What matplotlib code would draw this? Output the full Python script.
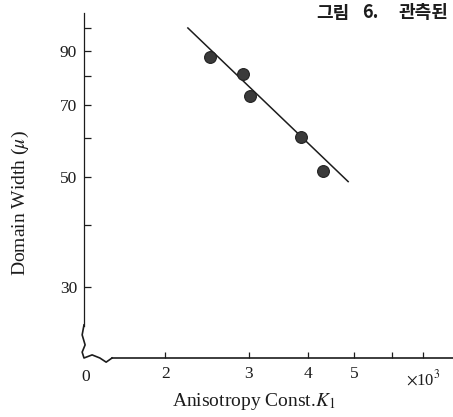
import numpy as np
import matplotlib
matplotlib.use("Agg")
import matplotlib.pyplot as plt
from matplotlib.ticker import FixedLocator, NullFormatter, FixedFormatter

# measured points (anisotropy const K1 in 10^3, domain width in micron)
k1 = [2.48, 2.92, 3.01, 3.87, 4.30]
width = [87.3, 80.8, 72.8, 60.3, 51.5]

# drawn fit line end points
line_k = [2.23, 4.86]
line_w = [100.0, 49.0]

x_major = [2, 3, 4, 5]
x_minor = [6, 7]
y_major = [30, 50, 70, 90]
y_minor = [40, 60, 80, 100]

plt.rcParams['font.family'] = ['Liberation Serif', 'DejaVu Serif']
plt.rcParams['mathtext.fontset'] = 'stix'
ink = '#1c1c1c'

W, H = 453, 417
fig = plt.figure(figsize=(W / 100, H / 100), dpi=100)
ax = fig.add_axes([84 / W, (H - 358) / H, (W - 84) / W, (358 - 13) / H])

ax.plot(line_k, line_w, color=ink, lw=1.1, zorder=2)
ax.plot(k1, width, 'o', ms=8.5, color='#3a3a3a', mec='#222222', mew=0.8, zorder=3)

ax.set_xscale('log')
ax.set_yscale('log')
ax.set_xlim(1.346, 8.09)
ax.set_ylim(21.6, 107.2)

ax.xaxis.set_major_locator(FixedLocator(x_major))
ax.xaxis.set_major_formatter(FixedFormatter([str(v) for v in x_major]))
ax.xaxis.set_minor_locator(FixedLocator(x_minor))
ax.xaxis.set_minor_formatter(NullFormatter())
ax.yaxis.set_major_locator(FixedLocator(y_major))
ax.yaxis.set_major_formatter(FixedFormatter([str(v) for v in y_major]))
ax.yaxis.set_minor_locator(FixedLocator(y_minor))
ax.yaxis.set_minor_formatter(NullFormatter())

ax.tick_params(axis='both', which='both', direction='in', color=ink,
               labelcolor=ink, labelsize=12.5, width=0.9)
ax.tick_params(axis='y', which='both', length=5, pad=5)
ax.tick_params(axis='x', which='both', length=4, pad=6)

for s in ['top', 'right']:
    ax.spines[s].set_visible(False)
ax.spines['left'].set_color(ink)
ax.spines['bottom'].set_color(ink)
ax.spines['left'].set_linewidth(0.9)
ax.spines['bottom'].set_linewidth(1.2)
ax.spines['left'].set_bounds(25.1, 107.2)
ax.spines['bottom'].set_bounds(1.54, 8.09)

# axis break squiggle near origin
bx = [0.0, -0.005, 0.003, -0.005, 0.0, 0.022, 0.043, 0.060, 0.076]
by = [0.096, 0.067, 0.038, 0.017, 0.0, 0.009, 0.0, -0.012, 0.0]
ax.plot(bx, by, color=ink, lw=1.2, transform=ax.transAxes, clip_on=False)

ax.text(0.005, -0.032, '0', transform=ax.transAxes, ha='center', va='top',
        fontsize=12.5, color=ink)
ax.text(0.919, -0.032, r'$\times$10$^3$', transform=ax.transAxes, ha='center',
        va='top', fontsize=12, color=ink)

fig.text(254 / W, 1 - 402 / H, r'Anisotropy Const.$K_1$', ha='center',
         va='center', fontsize=14, color=ink)
fig.text(20 / W, 1 - 203 / H, r'Domain Width ($\mu$)', ha='center',
         va='center', rotation=90, fontsize=14, color=ink)
cjk = ['Noto Sans CJK KR', 'DejaVu Sans']
for word, px in [('그림', 316), ('6.', 362), ('관측된', 398)]:
    fig.text(px / W, 1 - 13 / H, word, ha='left', va='center', fontsize=13,
             fontweight='bold', color=ink, family=cjk)

fig.savefig('out.png', dpi=100)
